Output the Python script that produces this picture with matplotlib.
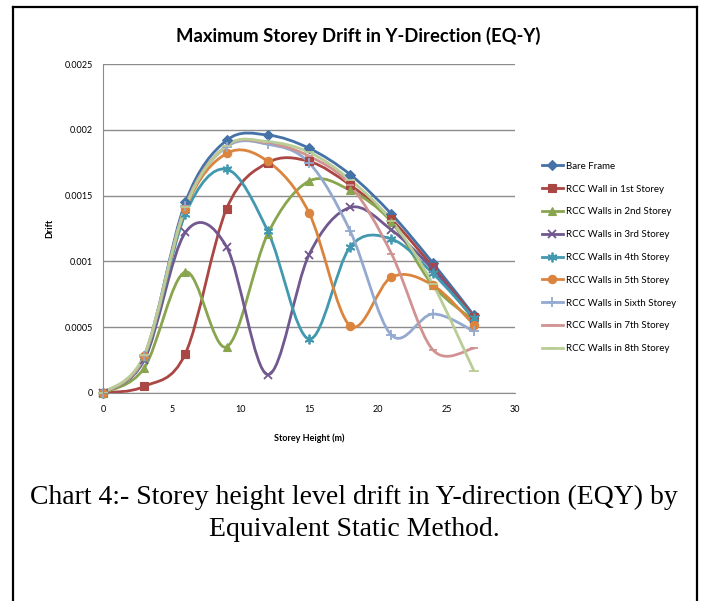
import matplotlib
matplotlib.use('Agg')
import matplotlib.pyplot as plt
import numpy as np
from matplotlib.path import Path
from matplotlib.patches import PathPatch
from matplotlib.lines import Line2D

# storey heights (m)
heights = [0, 3, 6, 9, 12, 15, 18, 21, 24, 27]

series_names = [
    'Bare Frame', 'RCC Wall in 1st Storey', 'RCC Walls in 2nd Storey',
    'RCC Walls in 3rd Storey', 'RCC Walls in 4th Storey', 'RCC Walls in 5th Storey',
    'RCC Walls in Sixth Storey', 'RCC Walls in 7th Storey', 'RCC Walls in 8th Storey'
]

bare_frame = [0, 0.00028, 0.00145, 0.00192, 0.00196, 0.00186, 0.00166, 0.00136, 0.00099, 0.00059]
wall_1st = [0, 0.00005, 0.00030, 0.00140, 0.00175, 0.00176, 0.00158, 0.00132, 0.00096, 0.00058]
wall_2nd = [0, 0.00019, 0.00092, 0.00035, 0.00121, 0.00161, 0.00154, 0.00130, 0.00082, 0.00055]
wall_3rd = [0, 0.00025, 0.00122, 0.00111, 0.00014, 0.00105, 0.00141, 0.00124, 0.00094, 0.00056]
wall_4th = [0, 0.00027, 0.00136, 0.00170, 0.00123, 0.00041, 0.00111, 0.00117, 0.00091, 0.00057]
wall_5th = [0, 0.00028, 0.00140, 0.00182, 0.00176, 0.00137, 0.00051, 0.00088, 0.00082, 0.00052]
wall_6th = [0, 0.00028, 0.00142, 0.00187, 0.00189, 0.00175, 0.00123, 0.00044, 0.00060, 0.00047]
wall_7th = [0, 0.00028, 0.00142, 0.00188, 0.00190, 0.00180, 0.00158, 0.00106, 0.00033, 0.00034]
wall_8th = [0, 0.00029, 0.00141, 0.00188, 0.00191, 0.00183, 0.00162, 0.00131, 0.00083, 0.00017]

all_series = [bare_frame, wall_1st, wall_2nd, wall_3rd, wall_4th,
              wall_5th, wall_6th, wall_7th, wall_8th]

colors = ['#4572A7', '#AA4643', '#89A54E', '#71588F', '#4198AF',
          '#DB843D', '#93A9CF', '#D19392', '#B9CD96']
markers = ['D', 's', '^', 'x', (6, 2, 0), 'o', '+', '_', '_']
msizes = [5, 5.5, 6, 6, 7, 6, 7, 6, 7]
thin = [False, False, False, True, True, False, True, True, True]


def smooth_path(xs, ys):
    # excel-style smoothed line: cubic bezier through every point
    xs = np.asarray(xs, float)
    ys = np.asarray(ys, float)
    n = len(xs)
    verts = [(xs[0], ys[0])]
    codes = [Path.MOVETO]
    for i in range(n - 1):
        i0 = max(i - 1, 0)
        i3 = min(i + 2, n - 1)
        c1 = (xs[i] + (xs[i + 1] - xs[i0]) / 6, ys[i] + (ys[i + 1] - ys[i0]) / 6)
        c2 = (xs[i + 1] - (xs[i3] - xs[i]) / 6, ys[i + 1] - (ys[i3] - ys[i]) / 6)
        verts += [c1, c2, (xs[i + 1], ys[i + 1])]
        codes += [Path.CURVE4] * 3
    return Path(verts, codes)


fig = plt.figure(figsize=(7.07, 6.01), dpi=100)
ax = fig.add_axes([103 / 707, 1 - 393 / 601, 412 / 707, 329 / 601])

handles = []
for vals, name, c, m, ms, t in zip(all_series, series_names, colors, markers, msizes, thin):
    patch = PathPatch(smooth_path(heights, vals), facecolor='none', edgecolor=c,
                      lw=2.0, capstyle='round', joinstyle='round')
    ax.add_patch(patch)
    mew = 1.3 if t else 0.8
    ax.plot(heights, vals, linestyle='none', marker=m, color=c, markersize=ms,
            markeredgewidth=mew, clip_on=False)
    handles.append(Line2D([], [], color=c, lw=2.0, marker=m, markersize=ms,
                          markeredgewidth=mew))

ax.set_xlim(0, 30)
ax.set_ylim(0, 0.0025)
ax.set_xticks([0, 5, 10, 15, 20, 25, 30])
ax.set_yticks([0, 0.0005, 0.001, 0.0015, 0.002, 0.0025])
ax.set_yticklabels(['0', '0.0005', '0.001', '0.0015', '0.002', '0.0025'])
ax.grid(axis='y', color='#8c8c8c', lw=1.0)
ax.set_axisbelow(True)
for s in ['top', 'right']:
    ax.spines[s].set_visible(False)
for s in ['left', 'bottom']:
    ax.spines[s].set_color('#8c8c8c')
ax.tick_params(length=0, labelsize=6.5, pad=7)
ax.tick_params(axis='x', pad=9)
for lab in ax.get_xticklabels() + ax.get_yticklabels():
    lab.set_family('Lato')

ax.set_xlabel('Storey Height (m)', fontsize=6.5, fontweight='bold', family='Lato', labelpad=14)
ax.set_ylabel('Drift', fontsize=6.5, fontweight='bold', family='Lato', labelpad=8)

fig.text(358 / 707, 1 - 36 / 601, 'Maximum Storey Drift in Y-Direction (EQ-Y)',
         ha='center', va='center', fontsize=13.3, fontweight='bold', family='Lato')

fig.legend(handles, series_names, loc='upper left', bbox_to_anchor=(533 / 707, 1 - 153 / 601),
           frameon=False, handlelength=2.2, labelspacing=1.42,
           handletextpad=0.3, prop={'family': 'Lato', 'size': 7.0})

fig.text(354 / 707, 1 - 497 / 601, 'Chart 4:- Storey height level drift in Y-direction (EQY) by',
         ha='center', va='center', fontsize=20, family='Liberation Serif')
fig.text(354 / 707, 1 - 530 / 601, 'Equivalent Static Method.',
         ha='center', va='center', fontsize=20, family='Liberation Serif')

# page frame
fig.add_artist(Line2D([13 / 707, 13 / 707], [0, 1 - 7 / 601], transform=fig.transFigure, color='black', lw=1.6))
fig.add_artist(Line2D([697 / 707, 697 / 707], [0, 1 - 7 / 601], transform=fig.transFigure, color='black', lw=1.6))
fig.add_artist(Line2D([13 / 707, 697 / 707], [1 - 7 / 601, 1 - 7 / 601], transform=fig.transFigure, color='black', lw=1.6))

fig.savefig('out.png', dpi=100)
